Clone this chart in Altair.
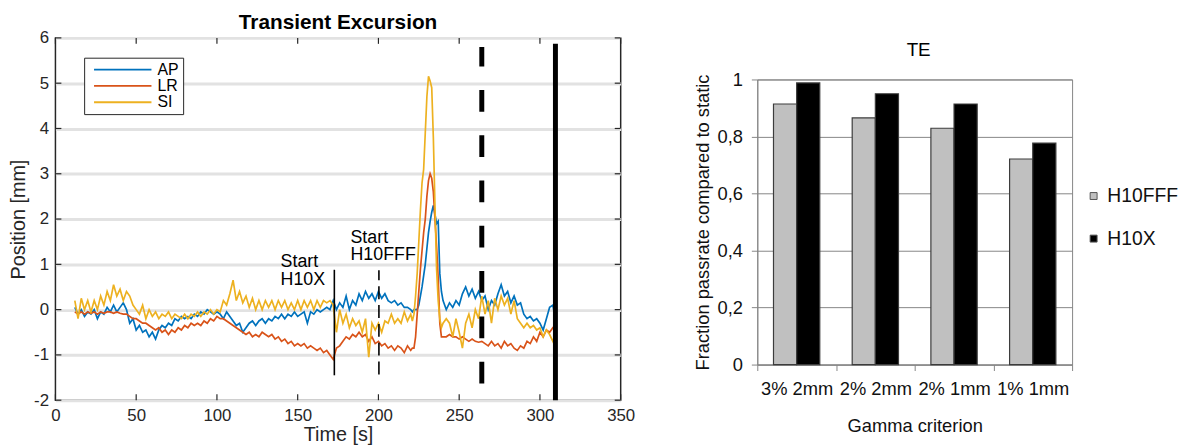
import altair as alt
import pandas as pd

FONT = "Liberation Sans"

# ---------------- left panel data ----------------
time_a = list(range(12, 221, 2))
time_b = list(range(221, 241))
time_c = list(range(242, 311, 2))
time_s = time_a + time_b + time_c

ap = [
    0.05, -0.1, 0.0, -0.15, -0.05, -0.1, 0.0, -0.2, -0.05, -0.1,
    0.05, -0.05, 0.1, -0.05, 0.05, 0.15, 0.0, -0.3, -0.2, -0.45,
    -0.35, -0.5, -0.45, -0.6, -0.5, -0.65, -0.45, -0.35, -0.4, -0.3,
    -0.35, -0.2, -0.25, -0.15, -0.2, -0.15, -0.2, -0.1, -0.15, -0.05,
    -0.1, 0.0, -0.05, -0.1, -0.05, -0.1, -0.2, -0.05, -0.15, -0.25,
    -0.35, -0.3, -0.5, -0.4, -0.3, -0.25, -0.35, -0.25, -0.2, -0.3,
    -0.2, -0.25, -0.15, -0.2, -0.1, -0.2, -0.1, -0.15, -0.05, -0.15,
    -0.1, -0.05, -0.3, -0.05, -0.1, 0.0, -0.05, 0.0, 0.05, 0.0,
    0.2, 0.0, 0.15, 0.05, 0.3, 0.0, 0.2, 0.1, 0.35, 0.2,
    0.4, 0.25, 0.35, 0.2, 0.4, 0.25, 0.35, 0.2, 0.15, 0.2,
    0.1, 0.15, 0.05, 0.05, 0.0,
    -0.05, 0.0, 0.0, 0.0, 0.1, 0.3, 0.5, 0.75, 1.0, 1.35,
    1.7, 1.95, 2.15, 2.3, 2.1, 1.9, 1.95, 0.8, 0.4, 0.2,
    0.0, 0.15, 0.05, 0.2, 0.1, 0.35, 0.5, 0.3, 0.45, 0.25,
    0.4, 0.2, 0.3, 0.0, 0.2, 0.1, 0.35, 0.55, 0.3, 0.4,
    0.15, 0.3, 0.1, 0.15, -0.1, -0.2, -0.15, -0.25, -0.2, -0.3,
    -0.45, -0.2, 0.05, 0.1, -0.3,
]

lr = [
    -0.05, -0.1, -0.05, -0.1, -0.05, -0.08, -0.05, -0.1, -0.05, -0.08,
    -0.05, -0.05, -0.08, -0.05, -0.08, -0.1, -0.1, -0.15, -0.2, -0.2,
    -0.25, -0.3, -0.3, -0.35, -0.4, -0.45, -0.4, -0.5, -0.45, -0.55,
    -0.45, -0.5, -0.4, -0.45, -0.35, -0.4, -0.3, -0.35, -0.3, -0.35,
    -0.25, -0.3, -0.2, -0.25, -0.15, -0.2, -0.2, -0.25, -0.3, -0.35,
    -0.4, -0.45, -0.5, -0.55, -0.5, -0.6, -0.55, -0.6, -0.5, -0.55,
    -0.6, -0.55, -0.65, -0.6, -0.7, -0.65, -0.75, -0.7, -0.8, -0.75,
    -0.8, -0.75, -0.85, -0.8, -0.85, -0.9, -0.85, -0.95, -0.9, -1.0,
    -1.1, -0.85, -0.8, -0.7, -0.6, -0.65, -0.55, -0.6, -0.5, -0.6,
    -0.55, -0.7, -0.6, -0.75, -0.7, -0.8, -0.75, -0.85, -0.8, -0.9,
    -0.8, -0.85, -0.95, -0.8, -0.9,
    -0.85, -0.85, -0.6, -0.1, 0.4, 0.9, 1.3, 1.7, 2.0, 2.5,
    2.85, 3.0, 2.9, 2.6, 2.0, 1.4, 0.7, -0.3, -0.6, -0.6,
    -0.6, -0.55, -0.6, -0.6, -0.65, -0.6, -0.65, -0.7, -0.65, -0.7,
    -0.72, -0.7, -0.75, -0.8, -0.7, -0.8, -0.75, -0.85, -0.7, -0.8,
    -0.75, -0.85, -0.9, -0.8, -0.85, -0.7, -0.75, -0.6, -0.7, -0.5,
    -0.6, -0.45, -0.5, -0.4, -0.45,
]

si = [
    0.2, -0.2, 0.25, 0.0, 0.2, -0.05, 0.2, 0.0, 0.3, 0.1,
    0.4, 0.2, 0.55, 0.3, 0.45, 0.2, 0.4, 0.3, 0.1, 0.0,
    -0.1, 0.1, -0.2, 0.0, -0.15, -0.05, -0.2, -0.1, -0.15, -0.05,
    -0.2, -0.1, -0.15, -0.2, -0.1, -0.2, -0.1, -0.15, -0.05, -0.15,
    -0.05, -0.1, 0.0, -0.1, 0.0, -0.05, 0.2, 0.1, 0.35, 0.65,
    0.2, 0.4, 0.15, 0.3, 0.05, 0.25, 0.0, 0.2, 0.0, 0.2,
    0.05, 0.2, 0.0, 0.2, 0.05, 0.2, 0.0, 0.15, 0.0, 0.2,
    0.0, 0.2, 0.05, 0.2, 0.0, 0.2, 0.05, 0.2, 0.15, 0.2,
    0.1, -0.5, 0.0, -0.3, -0.1, -0.4, -0.2, -0.35, -0.25, -0.5,
    -0.2, -1.05, -0.3, -0.45, -0.3, -0.5, -0.25, -0.3, -0.1, -0.3,
    -0.2, -0.3, -0.05, -0.25, -0.1,
    -0.25, -0.1, 0.3, 0.8, 1.5, 2.2, 2.8, 3.1, 3.9, 4.7,
    5.15, 5.05, 4.9, 3.8, 2.3, 0.9, 0.2, -0.2, -0.4, -0.3,
    -0.2, -0.3, -0.6, -0.2, -0.5, -0.85, -0.3, -0.1, -0.4, 0.0,
    -0.2, 0.3, -0.1, 0.2, -0.3, 0.25, 0.0, 0.3, 0.1, 0.25,
    -0.1, 0.2, -0.2, -0.3, -0.4, -0.3, -0.4, -0.35, -0.45, -0.4,
    -0.6, -0.45, -0.55, -0.7, -0.5,
]

series_names = ["AP", "LR", "SI"]
series_colors = ["#0072BD", "#D95319", "#EDB120"]

marker_t = [172.7, 200.3, 264.0, 309.6]
marker_lo = [-1.45, -1.43, -1.63, -2.0]
marker_hi = [0.88, 0.87, 5.8, 5.87]

ann_label = ["Start\nH10X", "Start\nH10FFF"]
ann_t = [139.4, 182.7]
ann_v = [1.24, 1.785]

x_ticks = [0, 50, 100, 150, 200, 250, 300, 350]
y_ticks = [-2, -1, 0, 1, 2, 3, 4, 5, 6]

# ---------------- right panel data ----------------
criteria = ["3% 2mm", "2% 2mm", "2% 1mm", "1% 1mm"]
bar_series = ["H10FFF", "H10X"]
h10fff = [0.914, 0.865, 0.829, 0.721]
h10x = [0.988, 0.95, 0.914, 0.777]
bar_ticks = [0, 0.2, 0.4, 0.6, 0.8, 1.0]

# ---------------- build tables ----------------
rows = []
for name, vals in zip(series_names, [ap, lr, si]):
    for t, v in zip(time_s, vals):
        rows.append({"t": t, "v": v, "series": name})
lines_df = pd.DataFrame(rows)

markers_df = pd.DataFrame({"t": marker_t, "v": marker_lo, "hi": marker_hi,
                           "kind": ["h10x", "h10fff", "end1", "end2"]})
ann_df = pd.DataFrame({"t": ann_t, "v": ann_v, "label": ann_label})
xt_df = pd.DataFrame({"t": x_ticks})
yt_df = pd.DataFrame({"v": y_ticks})

W1, H1 = 571, 366
AXC = "#262626"

x_axis = alt.Axis(values=x_ticks, title="Time [s]", grid=False, ticks=False, domain=False,
                  labelFontSize=17, labelPadding=8, labelColor=AXC, labelFlush=False,
                  titleFontSize=20, titleFontWeight="normal", titleColor=AXC, titlePadding=1,
                  labelFont=FONT, titleFont=FONT)
y_axis = alt.Axis(values=y_ticks, title="Position [mm]", grid=True, gridColor="#e2e2e2",
                  gridWidth=3, ticks=False, domain=False, labelFontSize=17, labelPadding=7,
                  labelExpr="datum.value < 0 ? '-' + abs(datum.value) : '' + datum.value",
                  labelColor=AXC, titleFontSize=20, titleFontWeight="normal", titleColor=AXC,
                  titlePadding=5, labelFont=FONT, titleFont=FONT)


def xenc(field="t"):
    return alt.X(f"{field}:Q", scale=alt.Scale(domain=[0, 350], nice=False, zero=False), axis=x_axis)


def yenc(field="v"):
    return alt.Y(f"{field}:Q", scale=alt.Scale(domain=[-2, 6], nice=False, zero=False), axis=y_axis)


lines = alt.Chart(lines_df).mark_line(strokeWidth=1.7).encode(
    x=xenc(), y=yenc(),
    color=alt.Color("series:N", scale=alt.Scale(domain=series_names, range=series_colors),
                    legend=alt.Legend(title=None, orient="none", legendX=29, legendY=20,
                                      symbolType="M-0.2857,0H8", symbolSize=196,
                                      symbolStrokeWidth=1.8, symbolFillColor="transparent",
                                      labelFontSize=16, labelFont=FONT, labelColor="black",
                                      strokeColor="#262626", fillColor="white", padding=4,
                                      rowPadding=0.5, labelOffset=54)),
    order=alt.Order("t:Q"),
)

m_base = alt.Chart(markers_df)
m_h10x = m_base.transform_filter("datum.kind == 'h10x'").mark_rule(color="black", strokeWidth=1.6).encode(
    x=xenc(), y=yenc(), y2="hi:Q")
m_fff = m_base.transform_filter("datum.kind == 'h10fff'").mark_rule(
    color="black", strokeWidth=1.6, strokeDash=[13, 6]).encode(x=xenc(), y=yenc(), y2="hi:Q")
m_end1 = m_base.transform_filter("datum.kind == 'end1'").mark_rule(
    color="black", strokeWidth=5, strokeDash=[22, 23.75]).encode(x=xenc(), y=yenc(), y2="hi:Q")
m_end2 = m_base.transform_filter("datum.kind == 'end2'").mark_rule(
    color="black", strokeWidth=5).encode(x=xenc(), y=yenc(), y2="hi:Q")

ann = alt.Chart(ann_df).mark_text(align="left", baseline="top", fontSize=18, font=FONT,
                                  lineBreak="\n", lineHeight=18,
                                  color="black").encode(x=xenc(), y=yenc(), text="label:N")

tk_b = alt.Chart(xt_df).mark_rule(color=AXC, strokeWidth=1.2).encode(
    x=xenc(), y=alt.value(H1), y2=alt.value(H1 - 6))
tk_t = alt.Chart(xt_df).mark_rule(color=AXC, strokeWidth=1.2).encode(
    x=xenc(), y=alt.value(0), y2=alt.value(6))
tk_l = alt.Chart(yt_df).mark_rule(color=AXC, strokeWidth=1.2).encode(
    y=yenc(), x=alt.value(0), x2=alt.value(6))
tk_r = alt.Chart(yt_df).mark_rule(color=AXC, strokeWidth=1.2).encode(
    y=yenc(), x=alt.value(W1), x2=alt.value(W1 - 6))

left = alt.layer(lines, m_h10x, m_fff, m_end1, m_end2, ann, tk_b, tk_t, tk_l, tk_r).properties(
    width=W1, height=H1,
    title=alt.TitleParams(text="Transient Excursion", fontSize=21, fontWeight="bold", font=FONT,
                          color="black", offset=-4, anchor="middle"),
    view=alt.ViewBackground(stroke=AXC, strokeWidth=1.5),
)

# ---------------- right panel ----------------
bar_rows = []
for c, a, b in zip(criteria, h10fff, h10x):
    bar_rows.append({"criterion": c, "series": "H10FFF", "value": a})
    bar_rows.append({"criterion": c, "series": "H10X", "value": b})
bar_df = pd.DataFrame(bar_rows)

GR = "#868686"
W2, H2 = 318, 288

bars = alt.Chart(bar_df).mark_bar(stroke="#3c3c3c", strokeWidth=1.2).encode(
    x=alt.X("criterion:N", sort=criteria,
            scale=alt.Scale(paddingInner=0, paddingOuter=0),
            axis=alt.Axis(title="Gamma criterion", labelAngle=0, labelFontSize=18.5, labelFont=FONT,
                          labelColor="#111", tickBand="extent", tickSize=6, tickColor=GR,
                          domainColor=GR, labelPadding=9, titleFontSize=18.5, titleFont=FONT,
                          titleFontWeight="normal", titleColor="#111", titlePadding=19)),
    xOffset=alt.XOffset("series:N", sort=bar_series,
                        scale=alt.Scale(paddingInner=0, paddingOuter=0.7)),
    y=alt.Y("value:Q", scale=alt.Scale(domain=[0, 1], nice=False),
            axis=alt.Axis(values=bar_ticks, title="Fraction passrate compared to static",
                          labelExpr="replace(format(datum.value, '.1~f'), '.', ',')",
                          labelFontSize=18.5, labelFont=FONT, labelColor="#111",
                          gridColor=GR, gridWidth=1, tickColor=GR, tickSize=6, domainColor=GR,
                          labelPadding=9, titleFontSize=18.5, titleFont=FONT,
                          titleFontWeight="normal", titleColor="#111", titlePadding=5)),
    color=alt.Color("series:N", scale=alt.Scale(domain=bar_series, range=["#c0c0c0", "#000000"]),
                    legend=alt.Legend(title=None, orient="none", legendX=330, legendY=150,
                                      symbolType="square", symbolSize=49, symbolStrokeColor="#555",
                                      symbolStrokeWidth=1, labelFontSize=19.5, labelFont=FONT,
                                      labelColor="#111", rowPadding=22, labelOffset=4, padding=0)),
)

te_title = alt.Chart(pd.DataFrame({"label": ["TE"]})).mark_text(
    fontSize=19, font=FONT, color="black", align="center", baseline="middle"
).encode(text="label:N", x=alt.value(W2 / 2 + 4), y=alt.value(-30))

right = alt.layer(bars, te_title).properties(
    width=W2, height=H2,
    view=alt.ViewBackground(stroke=GR, strokeWidth=1),
)

spacer = alt.Chart(pd.DataFrame({"a": [0]})).mark_rule(opacity=0, strokeWidth=0.1).encode(
    x=alt.value(0), y=alt.value(0), y2=alt.value(1)
).properties(width=W2, height=1, view=alt.ViewBackground(stroke="transparent"))

right_col = alt.vconcat(spacer, right, spacing=0)

chart = alt.hconcat(left, right_col, spacing=57).resolve_scale(color="independent").configure(
    padding={"left": 8, "top": 9, "right": 0, "bottom": 0}
)

chart.save("out.html", embed_options={"renderer": "svg", "actions": False})
